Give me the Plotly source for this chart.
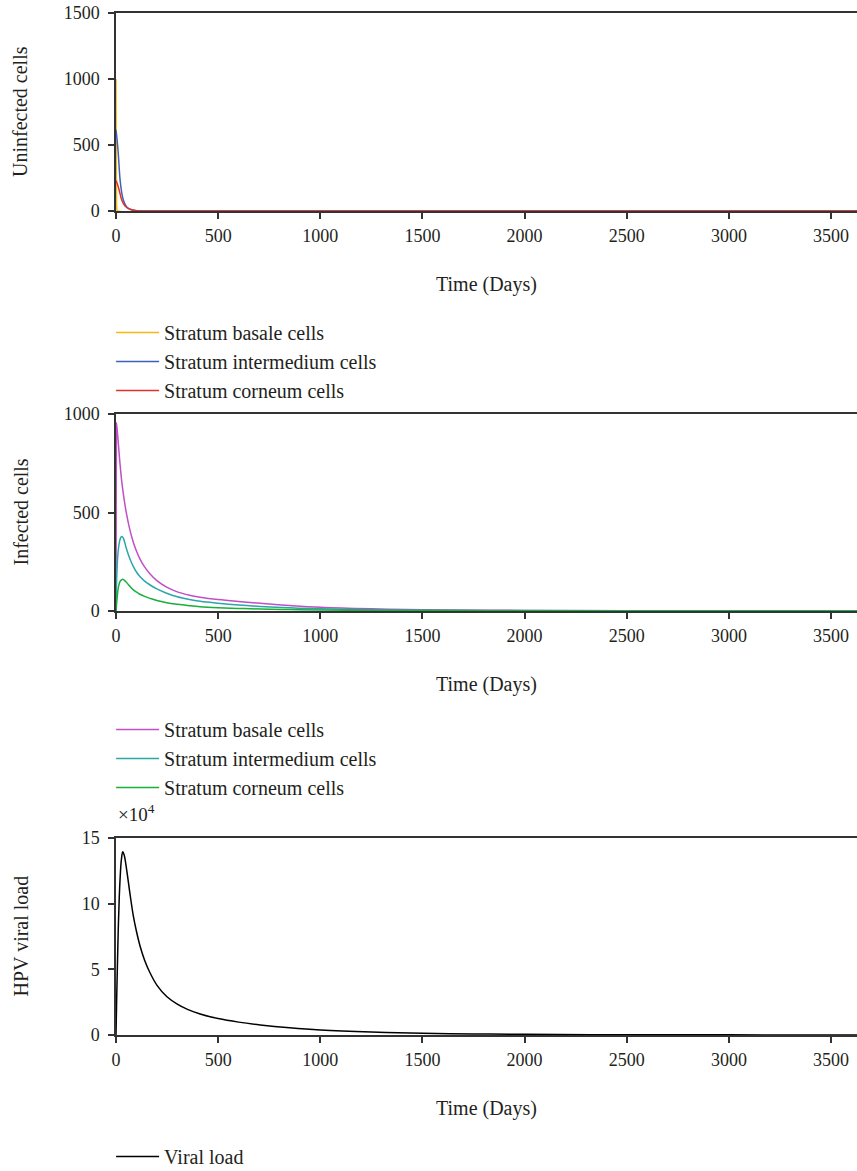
import plotly.graph_objects as go

# ---------------- data ----------------
# Panel 1: uninfected cells
t_basale_u = [0, 1, 2, 3, 5, 8, 3627]
v_basale_u = [1000, 450, 150, 40, 5, 0, 0]
t_inter_u = [0, 4, 11, 20, 28, 36, 48, 60, 85, 110, 150, 3627]
v_inter_u = [615, 560, 437, 235, 140, 83, 40, 20, 5, 1, 0, 0]
t_corn_u = [0, 4, 11, 20, 28, 44, 69, 100, 150, 3627]
v_corn_u = [230, 215, 184, 130, 83, 38, 13, 2, 0, 0]

# Panel 2: infected cells
t_basale_i = [0, 1.9, 2, 5, 10, 16, 22, 29, 40, 52, 68, 85, 100, 117, 140, 167, 200, 248, 300, 360,
              412, 500, 600, 706, 850, 1000, 1250, 1500, 2000, 2500, 3000, 3627]
v_basale_i = [0, 952, 955, 930, 870, 790, 720, 650, 565, 490, 412, 348, 305, 265, 224, 188, 154, 121, 97, 80,
              70, 58, 48, 39, 28, 19, 11, 6.5, 3, 1.5, 1, 0.5]
t_inter_i = [0, 3, 8, 15, 22, 28, 36, 50, 68, 85, 100, 117, 140, 167, 200, 248, 300, 360, 412,
             500, 600, 706, 850, 1000, 1250, 1500, 2000, 2500, 3000, 3627]
v_inter_i = [0, 150, 270, 340, 370, 378, 370, 320, 265, 225, 198, 175, 152, 132, 112, 90, 72, 58, 49,
             39, 30, 23, 16, 11, 6, 4, 2, 1, 0.7, 0.4]
t_corn_i = [0, 5, 10, 15, 20, 27, 33, 45, 60, 85, 100, 117, 140, 167, 200, 248, 300, 360, 412,
            500, 600, 706, 850, 1000, 1250, 1500, 2000, 2500, 3000, 3627]
v_corn_i = [0, 60, 110, 135, 150, 158, 161, 152, 135, 107, 96, 85, 74, 64, 53, 42, 34, 27, 22,
            17, 13, 10, 7, 5, 3, 2, 1, 0.5, 0.3, 0.2]

# Panel 3: HPV viral load (x 10^4)
t_viral = [0, 3, 6.5, 11, 16, 20, 26, 33, 40, 52, 68, 85, 100, 118, 140, 167, 200, 248, 300, 350,
           412, 500, 600, 706, 850, 1000, 1250, 1500, 1750, 2000, 2500, 3000, 3627]
v_viral = [0, 2.5, 5, 8, 10.5, 11.9, 13.3, 13.95, 13.7, 12.6, 10.8, 9.05, 7.9, 6.76, 5.7, 4.72, 3.8, 2.93, 2.35, 1.95,
           1.6, 1.25, 0.98, 0.77, 0.55, 0.38, 0.22, 0.13, 0.08, 0.05, 0.02, 0.01, 0]

x_ticks = [0, 500, 1000, 1500, 2000, 2500, 3000, 3500]
y1_ticks = [0, 500, 1000, 1500]
y2_ticks = [0, 500, 1000]
y3_ticks = [0, 5, 10, 15]

# ---------------- figure ----------------
W, H = 857, 1171
FONT = "Liberation Serif"
TXT = "#231f20"
AX = "#333333"

def py(p):
    return 1 - p / H

fig = go.Figure()

def add(t, v, name, color, n, legend):
    fig.add_trace(go.Scatter(
        x=t, y=v, name=name, mode="lines",
        line=dict(color=color, width=1.5, shape="spline", smoothing=1.0),
        xaxis="x" if n == 1 else f"x{n}", yaxis="y" if n == 1 else f"y{n}",
        legend=legend))

add(t_basale_u, v_basale_u, "Stratum basale cells", "#F7B80F", 1, "legend")
add(t_inter_u, v_inter_u, "Stratum intermedium cells", "#3F5FBF", 1, "legend")
add(t_corn_u, v_corn_u, "Stratum corneum cells", "#E0302A", 1, "legend")
add(t_basale_i, v_basale_i, "Stratum basale cells", "#C04FC8", 2, "legend2")
add(t_inter_i, v_inter_i, "Stratum intermedium cells", "#2AA7A7", 2, "legend2")
add(t_corn_i, v_corn_i, "Stratum corneum cells", "#1AAE3A", 2, "legend2")
add(t_viral, v_viral, "Viral load", "#000000", 3, "legend3")

domains = [(13, 211), (414, 611), (838, 1035)]
yranges = [[0, 1500], [0, 1000], [0, 15]]
yticks = [y1_ticks, y2_ticks, y3_ticks]
ytitles = ["Uninfected cells", "Infected cells", "HPV viral load"]

axis_common = dict(showline=True, linecolor=AX, linewidth=1.5, ticks="outside",
                   ticklen=6, tickwidth=1.5, tickcolor=AX, showgrid=False,
                   zeroline=False, tickfont=dict(family=FONT, size=18, color=TXT))

annotations = []
for i, ((top, bot), yr, yt, ytitle) in enumerate(zip(domains, yranges, yticks, ytitles), start=1):
    sx = "" if i == 1 else str(i)
    fig.layout[f"xaxis{sx}"] = dict(axis_common, domain=[0, 1], range=[0, 3627],
                                    tickvals=x_ticks, mirror=True, ticklabelstandoff=2,
                                    anchor=f"y{sx}")
    fig.layout[f"yaxis{sx}"] = dict(axis_common, domain=[py(bot), py(top)], range=yr,
                                    tickvals=yt, ticklabelstandoff=5, anchor=f"x{sx}")
    annotations.append(dict(text="Time (Days)", xref="paper", yref="paper",
                            x=0.5, y=py(bot + 73), xanchor="center", yanchor="middle",
                            showarrow=False, font=dict(family=FONT, size=20, color=TXT)))
    annotations.append(dict(text=ytitle, xref="paper", yref="paper",
                            x=(20 - 116) / (W - 116), y=py((top + bot) / 2),
                            xanchor="center", yanchor="middle", textangle=-90,
                            showarrow=False, font=dict(family=FONT, size=20, color=TXT)))

annotations.append(dict(text="×10<sup>4</sup>", xref="paper", yref="paper",
                        x=0, y=py(813), xanchor="left", yanchor="middle",
                        showarrow=False, font=dict(family=FONT, size=19, color=TXT)))

leg_common = dict(xanchor="left", yanchor="top", x=-0.0066, bgcolor="rgba(0,0,0,0)",
                  font=dict(family=FONT, size=20, color=TXT), itemwidth=43,
                  tracegroupgap=0)
fig.update_layout(
    width=W, height=H,
    margin=dict(l=116, r=0, t=0, b=0, autoexpand=False),
    paper_bgcolor="white", plot_bgcolor="white",
    showlegend=True,
    legend=dict(leg_common, y=py(313)),
    legend2=dict(leg_common, y=py(710)),
    legend3=dict(leg_common, y=py(1137)),
    annotations=annotations,
)

fig.write_html("out.html", config={"displayModeBar": False},
               post_script="document.body.style.margin='0';document.body.style.overflow='hidden';")
